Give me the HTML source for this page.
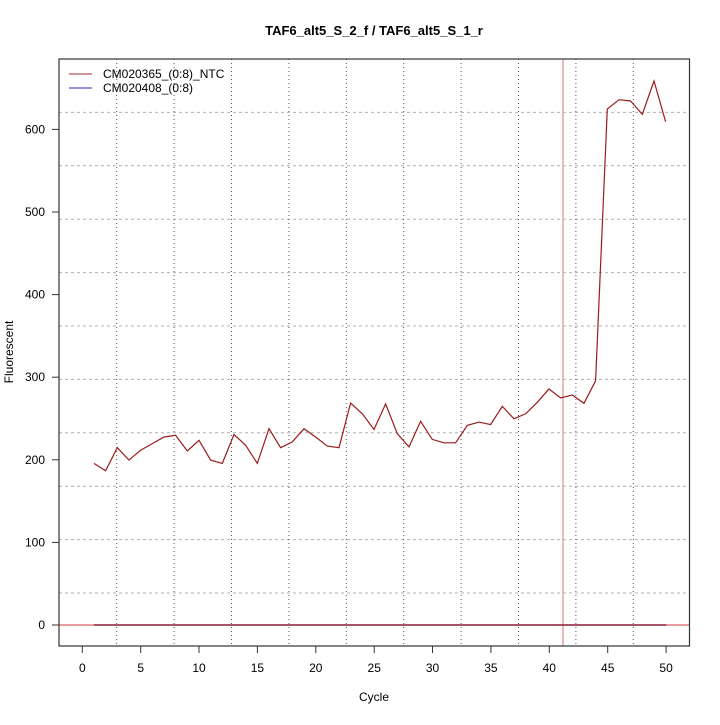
<!DOCTYPE html>
<html><head><meta charset="utf-8"><style>html,body{margin:0;padding:0;background:#fff}</style></head>
<body>
<svg width="720" height="720" viewBox="0 0 720 720" xmlns="http://www.w3.org/2000/svg" font-family="Liberation Sans, sans-serif">
<rect width="720" height="720" fill="#fff"/>
<g stroke="#b0b0b0" stroke-width="1" stroke-dasharray="3,3">
<line x1="59" x2="689" y1="593" y2="593"/>
<line x1="59" x2="689" y1="539.6" y2="539.6"/>
<line x1="59" x2="689" y1="486.2" y2="486.2"/>
<line x1="59" x2="689" y1="432.8" y2="432.8"/>
<line x1="59" x2="689" y1="379.4" y2="379.4"/>
<line x1="59" x2="689" y1="326" y2="326"/>
<line x1="59" x2="689" y1="272.6" y2="272.6"/>
<line x1="59" x2="689" y1="219.2" y2="219.2"/>
<line x1="59" x2="689" y1="165.8" y2="165.8"/>
<line x1="59" x2="689" y1="112.4" y2="112.4"/>
</g>
<g stroke="#555" stroke-width="1" stroke-dasharray="1,3">
<line x1="116.7" x2="116.7" y1="59" y2="646"/>
<line x1="174.1" x2="174.1" y1="59" y2="646"/>
<line x1="231.5" x2="231.5" y1="59" y2="646"/>
<line x1="288.9" x2="288.9" y1="59" y2="646"/>
<line x1="346.3" x2="346.3" y1="59" y2="646"/>
<line x1="403.7" x2="403.7" y1="59" y2="646"/>
<line x1="461.1" x2="461.1" y1="59" y2="646"/>
<line x1="518.5" x2="518.5" y1="59" y2="646"/>
<line x1="575.9" x2="575.9" y1="59" y2="646"/>
<line x1="633.3" x2="633.3" y1="59" y2="646"/>
</g>
<line x1="563" x2="563" y1="59" y2="646" stroke="#e8a0a0" stroke-width="1.5"/>
<line x1="59" x2="689" y1="625" y2="625" stroke="#e06060" stroke-width="1.3"/>
<line x1="94" x2="666.3" y1="625" y2="625" stroke="#8a2a40" stroke-width="1.5"/>
<polyline fill="none" stroke="#9b1b1b" stroke-width="1.2" points="94,463.4 105.6,470.8 117.3,447.7 129,460.1 140.6,450.2 152.3,443.6 164,437 175.6,435.3 187.3,451 199,440.3 210.6,460.1 222.3,463.4 234,434.5 245.6,445.2 257.3,463.4 269,428.7 280.6,447.7 292.3,441.9 304,428.7 315.6,437 327.3,446.1 339,447.7 350.6,403.1 362.3,413.8 374,429.5 385.6,403.9 397.3,433.7 409,446.9 420.6,421.3 432.3,439.4 444,442.8 455.6,442.8 467.3,425.4 479,422.1 490.6,424.6 502.3,406.4 514,418.8 525.6,413.8 537.3,402.3 549,389 560.6,398 572.3,395 584,403.3 595.6,380.7 607.3,109 619,99.7 630.6,101 642.3,114.3 654,81 665.6,121.7"/>
<rect x="59" y="59" width="630.5" height="587" fill="none" stroke="#333" stroke-width="1.2"/>
<g stroke="#333" stroke-width="1">
<line x1="52" x2="59" y1="625" y2="625"/><line x1="52" x2="59" y1="542.4" y2="542.4"/>
<line x1="52" x2="59" y1="459.8" y2="459.8"/><line x1="52" x2="59" y1="377.2" y2="377.2"/>
<line x1="52" x2="59" y1="294.6" y2="294.6"/><line x1="52" x2="59" y1="212" y2="212"/>
<line x1="52" x2="59" y1="129.4" y2="129.4"/>
<line x1="82.3" x2="82.3" y1="646" y2="653"/><line x1="140.7" x2="140.7" y1="646" y2="653"/>
<line x1="199" x2="199" y1="646" y2="653"/><line x1="257.4" x2="257.4" y1="646" y2="653"/>
<line x1="315.8" x2="315.8" y1="646" y2="653"/><line x1="374.2" x2="374.2" y1="646" y2="653"/>
<line x1="432.5" x2="432.5" y1="646" y2="653"/><line x1="490.9" x2="490.9" y1="646" y2="653"/>
<line x1="549.3" x2="549.3" y1="646" y2="653"/><line x1="607.7" x2="607.7" y1="646" y2="653"/>
<line x1="666.1" x2="666.1" y1="646" y2="653"/>
</g>
<g font-size="12" fill="#000" text-anchor="end">
<text x="45" y="629">0</text><text x="45" y="546.4">100</text><text x="45" y="463.8">200</text>
<text x="45" y="381.2">300</text><text x="45" y="298.6">400</text><text x="45" y="216">500</text><text x="45" y="133.4">600</text>
</g>
<g font-size="12" fill="#000" text-anchor="middle">
<text x="82.3" y="672">0</text><text x="140.7" y="672">5</text><text x="199" y="672">10</text>
<text x="257.4" y="672">15</text><text x="315.8" y="672">20</text><text x="374.2" y="672">25</text>
<text x="432.5" y="672">30</text><text x="490.9" y="672">35</text><text x="549.3" y="672">40</text>
<text x="607.7" y="672">45</text><text x="666.1" y="672">50</text>
<text x="374" y="701">Cycle</text>
<text x="0" y="0" transform="translate(13,352) rotate(-90)">Fluorescent</text>
<text x="374" y="35" font-weight="bold" font-size="13">TAF6_alt5_S_2_f / TAF6_alt5_S_1_r</text>
</g>
<line x1="69" x2="92" y1="74" y2="74" stroke="#9b3030" stroke-width="1"/>
<line x1="69" x2="92" y1="88" y2="88" stroke="#7070c0" stroke-width="1.5"/>
<g font-size="12" fill="#000">
<text x="103" y="78">CM020365_(0:8)_NTC</text>
<text x="103" y="92">CM020408_(0:8)</text>
</g>
</svg>
</body></html>
